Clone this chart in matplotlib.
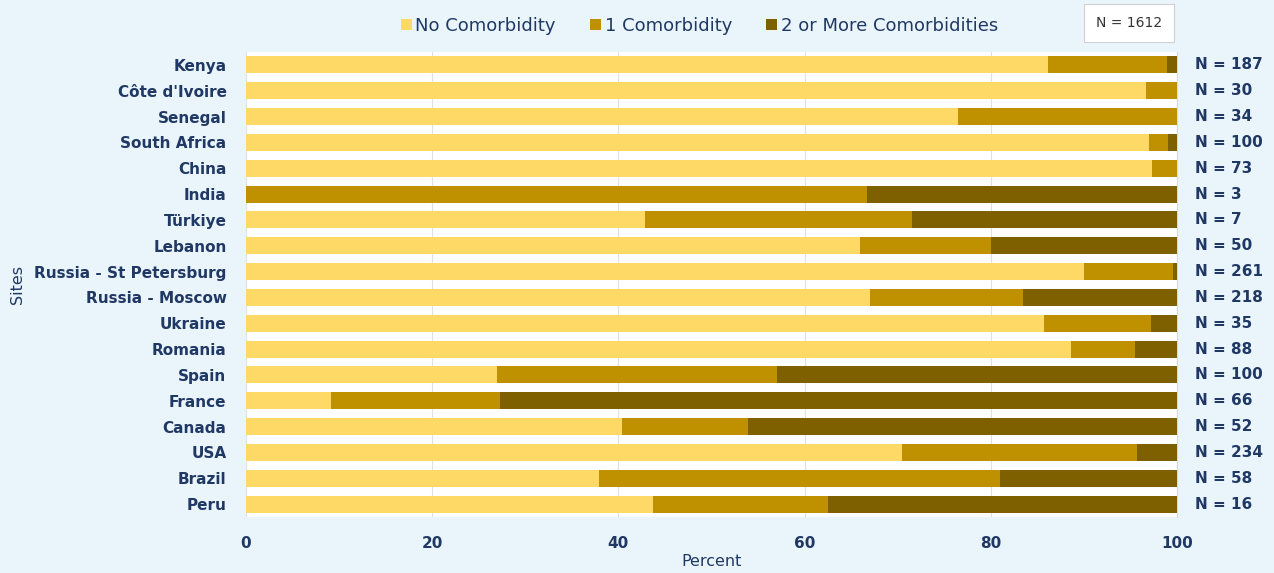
import matplotlib.pyplot as plt
import numpy as np

# Data (percent of each site's patients), top to bottom as drawn
sites = [
    "Kenya", "Côte d'Ivoire", "Senegal", "South Africa", "China", "India",
    "Türkiye", "Lebanon", "Russia - St Petersburg", "Russia - Moscow",
    "Ukraine", "Romania", "Spain", "France", "Canada", "USA", "Brazil", "Peru",
]
n_site = [187, 30, 34, 100, 73, 3, 7, 50, 261, 218, 35, 88, 100, 66, 52, 234, 58, 16]
no_comorb = [86.1, 96.7, 76.5, 97.0, 97.3, 0.0, 42.9, 66.0, 90.0, 67.0,
             85.7, 88.6, 27.0, 9.1, 40.4, 70.5, 37.9, 43.75]
one_comorb = [12.8, 3.3, 23.5, 2.0, 2.7, 66.7, 28.6, 14.0, 9.6, 16.5,
              11.5, 6.9, 30.0, 18.2, 13.5, 25.2, 43.1, 18.75]
two_plus = [1.1, 0.0, 0.0, 1.0, 0.0, 33.3, 28.5, 20.0, 0.4, 16.5,
            2.8, 4.5, 43.0, 72.7, 46.1, 4.3, 19.0, 37.5]
n_total = 1612

series_names = ["No Comorbidity", "1 Comorbidity", "2 or More Comorbidities"]
colors = ["#FFD966", "#BF9000", "#7F6000"]
text_col = "#1F3864"
bg = "#EAF4FB"

plt.rcParams["font.family"] = ["DejaVu Sans"]

fig = plt.figure(figsize=(12.74, 5.73), dpi=100, facecolor=bg)
ax = fig.add_axes([0.1931, 0.0977, 0.7308, 0.8115])
ax.set_facecolor("white")

y = np.arange(len(sites))
left = np.zeros(len(sites))
for vals, name, c in zip([no_comorb, one_comorb, two_plus], series_names, colors):
    vals = np.array(vals)
    ax.barh(y, vals, left=left, height=0.66, color=c, label=name, zorder=3)
    left += vals

ax.set_ylim(len(sites) - 0.5, -0.5)
ax.set_xlim(0, 100)
ax.set_yticks(y)
ax.set_yticklabels(sites, fontsize=11, fontweight="bold", color=text_col)
ax.set_xticks([0, 20, 40, 60, 80, 100])
ax.tick_params(axis="x", labelsize=11, labelcolor=text_col, length=0, pad=14)
ax.tick_params(axis="y", length=0, pad=14)
for lab in ax.get_xticklabels():
    lab.set_fontweight("bold")
ax.xaxis.grid(True, color="#E0E0E0", linewidth=0.8, zorder=0)

for s in ["top", "left", "bottom"]:
    ax.spines[s].set_visible(False)
ax.spines["right"].set_color("#D9D9D9")

ax.set_xlabel("Percent", fontsize=11.5, color=text_col, labelpad=2)
ax.set_ylabel("Sites", fontsize=11.5, color=text_col)
ax.yaxis.set_label_coords(-0.237, 0.5)

# N per site on the right
for yi, n in zip(y, n_site):
    ax.text(1.019, yi, f"N = {n}", transform=ax.get_yaxis_transform(),
            va="center", ha="left", fontsize=11, fontweight="bold", color=text_col)

leg = fig.legend(loc="center", bbox_to_anchor=(0.549, 0.955), ncol=3, frameon=False,
                 fontsize=13, handlelength=0.6, handleheight=0.6, handletextpad=0.2,
                 columnspacing=1.9)
for t in leg.get_texts():
    t.set_color(text_col)

fig.text(0.886, 0.96, f"N = {n_total}", ha="center", va="center", fontsize=10,
         color="#333333",
         bbox=dict(boxstyle="square,pad=0.85", facecolor="white", edgecolor="#D0D0D0",
                   linewidth=0.8))

fig.savefig("out.png", dpi=100, facecolor=bg)
